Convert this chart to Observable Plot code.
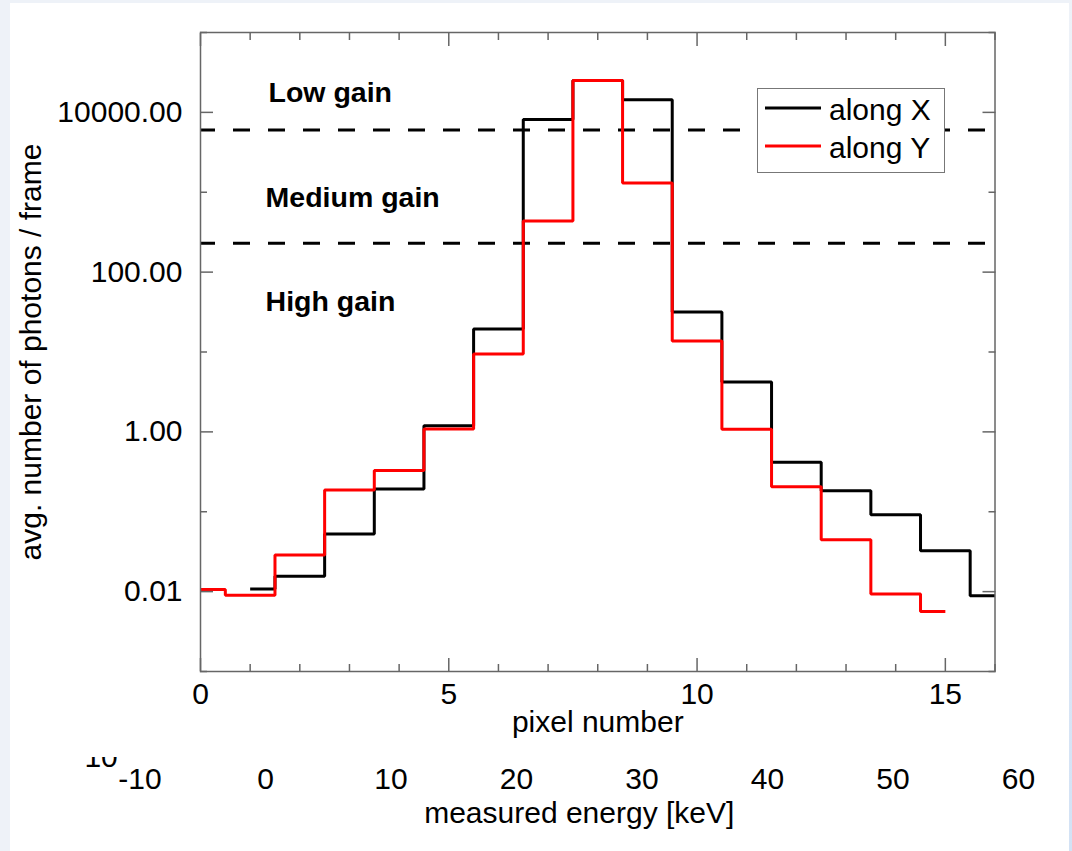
<!DOCTYPE html>
<html>
<head>
<meta charset="utf-8">
<script src="https://cdn.jsdelivr.net/npm/d3@7"></script>
<script src="https://cdn.jsdelivr.net/npm/@observablehq/plot@0.6"></script>
<style>
  html, body { margin: 0; padding: 0; }
  body {
    width: 1072px; height: 851px; position: relative; overflow: hidden;
    background: #eef2f8;
    font-family: "Liberation Sans", Arial, Helvetica, sans-serif;
  }
  #panel { position: absolute; left: 10px; top: 3px; width: 1059px; height: 848px; background: #fff; }
  #edge { position: absolute; left: 1069px; top: 0; width: 3px; height: 851px; background: linear-gradient(#eef2f8, #d3e2f5); }
  #chart { position: absolute; left: 0; top: 0; }
  #energy { position: absolute; left: 0; top: 757px; }
  #legend {
    position: absolute; left: 757px; top: 88px; width: 188px; height: 85px;
    box-sizing: border-box; border: 1px solid #777; background: #fff;
  }
  #legend svg { display: block; }
</style>
</head>
<body>
<div id="panel"></div>
<div id="edge"></div>
<div id="chart"></div>
<div id="energy"></div>
<div id="legend"></div>
<script>
// Average photons per frame, per pixel, for the profile along X (black)
const pixelsAlongX  = [1, 2, 3, 4, 5, 6, 7, 8, 9, 10, 11, 12, 13, 14, 15, 16];
const photonsAlongX = [0.0108, 0.0156, 0.0526, 0.192, 1.19, 19.4, 8130, 25100,
                       14400, 31.6, 4.22, 0.418, 0.183, 0.0917, 0.0326, 0.0089];

// ... and for the profile along Y (red)
const pixelsAlongY  = [0, 1, 2, 3, 4, 5, 6, 7, 8, 9, 10, 11, 12, 13, 14, 15];
const photonsAlongY = [0.0106, 0.0090, 0.0288, 0.187, 0.329, 1.09, 9.44, 436,
                       25100, 1308, 13.7, 1.08, 0.205, 0.0447, 0.00934, 0.00562];

const seriesNames = ["along X", "along Y"];

// Gain switching thresholds (photons / frame) and the ranges between them
const gainThresholds = [6000, 230];
const gainLabels = ["Low gain", "Medium gain", "High gain"];

// Axis ticks
const yTickValues = [10000, 100, 1, 0.01];
const yTickLabels = ["10000.00", "100.00", "1.00", "0.01"];
const yMinorTicks = [100000, 1000, 10, 0.1, 0.001];
const xTickValues = [0, 5, 10, 15];
const xMinorTicks = [1, 2, 3, 4, 6, 7, 8, 9, 11, 12, 13, 14, 16];
const energyTicks = [-10, 0, 10, 20, 30, 40, 50, 60];

// Layout / style
const seriesColors = ["#000000", "#ff0000"];
const gainLabelPlacement = [{x: 1.37, y: 13300}, {x: 1.31, y: 650}, {x: 1.31, y: 32.5}];
const font = `"Liberation Sans", Arial, Helvetica, sans-serif`;
const axisGray = "#666";

const alongX = pixelsAlongX.map((p, i) => ({pixel: p, photons: photonsAlongX[i]}));
const alongY = pixelsAlongY.map((p, i) => ({pixel: p, photons: photonsAlongY[i]}));
const gains = gainLabels.map((label, i) => ({label, ...gainLabelPlacement[i]}));

const tickStyle = {stroke: axisGray, strokeWidth: 1.5, fill: "none", label: null};

const chart = Plot.plot({
  width: 1072,
  height: 757,
  marginLeft: 200,
  marginRight: 77.5,
  marginTop: 32,
  marginBottom: 86,
  x: {domain: [0, 16]},
  y: {type: "log", domain: [1e-3, 1e5]},
  style: {fontFamily: font, fontSize: "30px", color: "#000", background: "transparent", overflow: "visible"},
  marks: [
    // gain boundaries
    Plot.ruleY(gainThresholds, {stroke: "#000", strokeWidth: 3, strokeDasharray: "17 18", strokeDashoffset: 2}),
    // stepped profiles
    Plot.line(alongX, {x: "pixel", y: "photons", curve: "step", stroke: seriesColors[0], strokeWidth: 3, strokeLinejoin: "miter", strokeLinecap: "butt"}),
    Plot.line(alongY, {x: "pixel", y: "photons", curve: "step", stroke: seriesColors[1], strokeWidth: 3, strokeLinejoin: "miter", strokeLinecap: "butt"}),
    // gain range labels
    Plot.text(gains, {x: "x", y: "y", text: "label", textAnchor: "start", lineAnchor: "bottom", fontWeight: "bold", fontSize: 28.5}),
    // inward ticks on all four sides
    Plot.axisY(yTickValues, {anchor: "left", tickSize: -13, ...tickStyle}),
    Plot.axisY(yMinorTicks, {anchor: "left", tickSize: -7, ...tickStyle}),
    Plot.axisY(yTickValues, {anchor: "right", tickSize: -13, ...tickStyle}),
    Plot.axisY(yMinorTicks, {anchor: "right", tickSize: -7, ...tickStyle}),
    Plot.axisX(xTickValues, {anchor: "bottom", tickSize: -13, ...tickStyle}),
    Plot.axisX(xMinorTicks, {anchor: "bottom", tickSize: -7, ...tickStyle}),
    Plot.axisX(xTickValues, {anchor: "top", tickSize: -13, ...tickStyle}),
    Plot.axisX(xMinorTicks, {anchor: "top", tickSize: -7, ...tickStyle}),
    // tick labels
    Plot.axisY(yTickValues, {anchor: "left", tickSize: 0, tickPadding: 18, label: null,
      tickFormat: (d) => yTickLabels[yTickValues.indexOf(d)]}),
    Plot.axisX(xTickValues, {anchor: "bottom", tickSize: 0, tickPadding: 11, label: null,
      tickFormat: (d) => String(d)}),
    // axis titles
    Plot.text(["avg. number of photons / frame"], {frameAnchor: "left", dx: -160, rotate: -90, lineAnchor: "bottom", textAnchor: "middle"}),
    Plot.text(["pixel number"], {frameAnchor: "bottom", dy: 60, lineAnchor: "bottom", textAnchor: "middle"}),
    Plot.frame({stroke: axisGray, strokeWidth: 1.5})
  ]
});
document.getElementById("chart").append(chart);

// Secondary scale: measured energy in keV
const energy = Plot.plot({
  width: 1072,
  height: 94,
  marginLeft: 139.5,
  marginRight: 54,
  marginTop: 22,
  marginBottom: 0,
  x: {domain: [-10, 60], axis: null},
  style: {fontFamily: font, fontSize: "30px", color: "#000", background: "transparent", overflow: "hidden"},
  marks: [
    Plot.text(energyTicks, {x: (d) => d, text: (d) => String(d), frameAnchor: "top", lineAnchor: "middle"}),
    Plot.text(["10"], {x: -13.1, frameAnchor: "top", dy: -13, lineAnchor: "bottom"}),
    Plot.text(["measured energy [keV]"], {frameAnchor: "top", dy: 43, lineAnchor: "bottom", textAnchor: "middle"})
  ]
});
document.getElementById("energy").append(energy);

// Legend
const ns = "http://www.w3.org/2000/svg";
const lg = document.createElementNS(ns, "svg");
lg.setAttribute("width", 186);
lg.setAttribute("height", 83);
seriesNames.forEach((name, i) => {
  const y = 19 + i * 38;
  const line = document.createElementNS(ns, "line");
  line.setAttribute("x1", 7); line.setAttribute("x2", 63);
  line.setAttribute("y1", y); line.setAttribute("y2", y);
  line.setAttribute("stroke", seriesColors[i]);
  line.setAttribute("stroke-width", 3);
  lg.append(line);
  const t = document.createElementNS(ns, "text");
  t.setAttribute("x", 71); t.setAttribute("y", y + 12);
  t.setAttribute("font-size", 30);
  t.setAttribute("font-family", font);
  t.textContent = name;
  lg.append(t);
});
document.getElementById("legend").append(lg);
</script>
</body>
</html>
